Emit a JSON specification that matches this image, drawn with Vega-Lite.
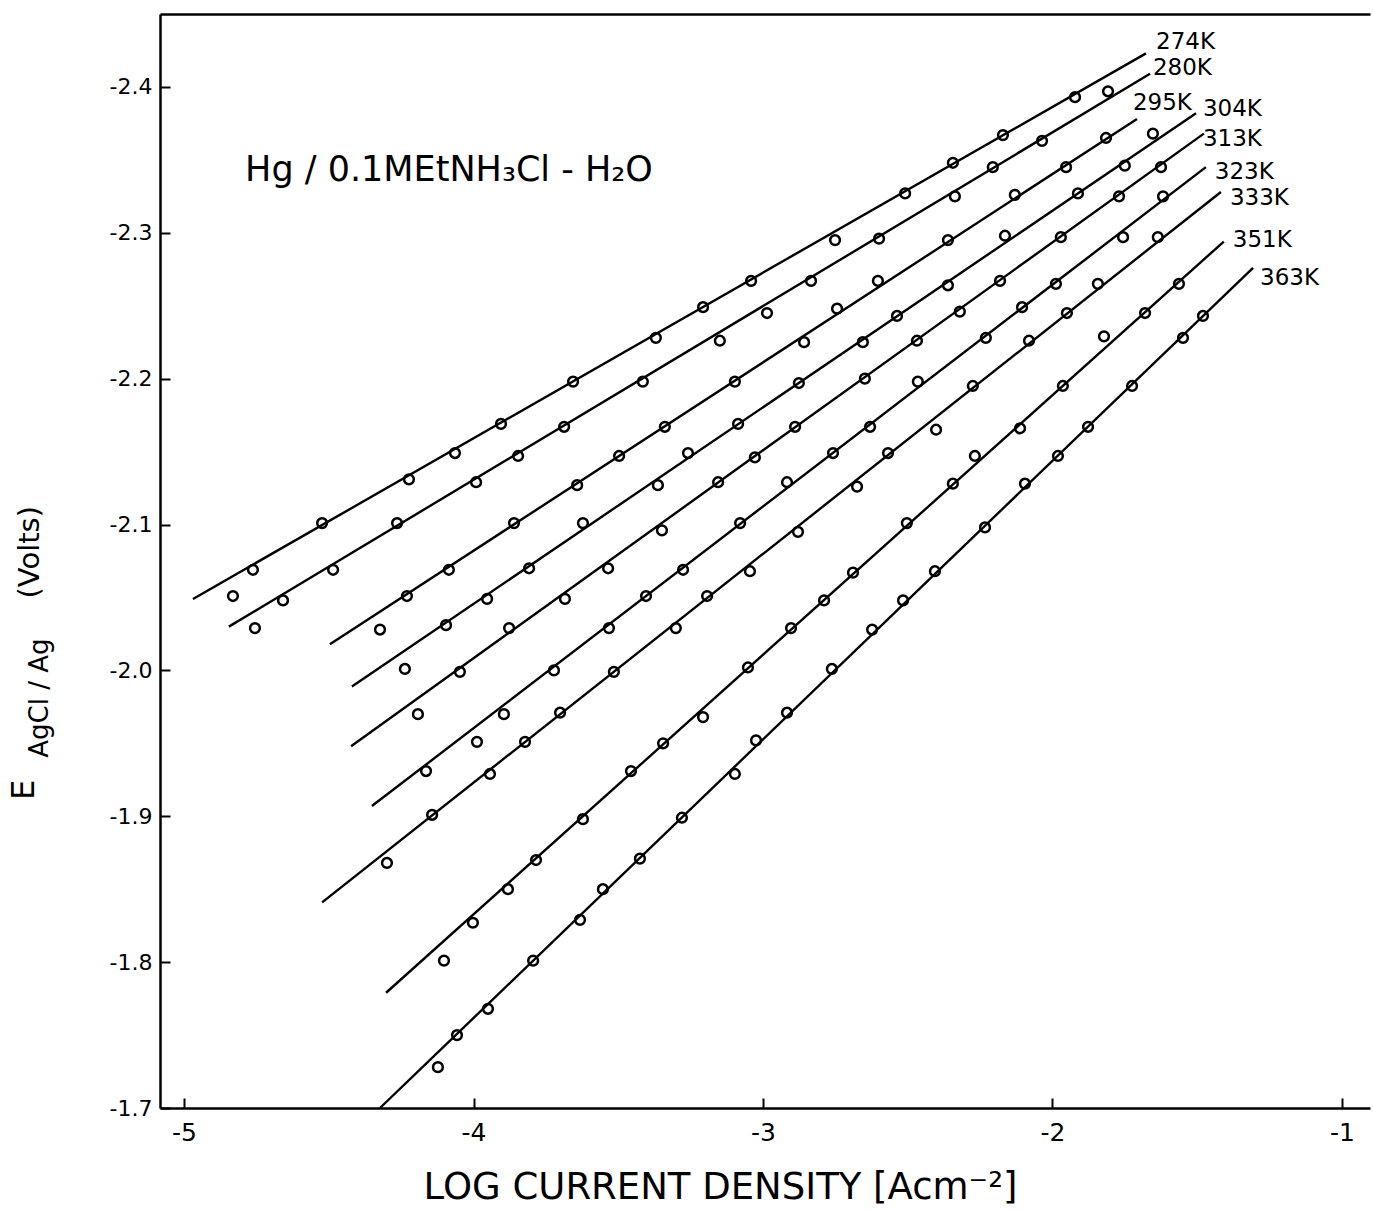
{
  "$schema": "https://vega.github.io/schema/vega-lite/v6.json",
  "width": 1210,
  "height": 1094,
  "autosize": {"type": "none"},
  "padding": {"left": 160, "top": 14, "right": 3, "bottom": 104},
  "background": "white",
  "config": {
    "view": {"stroke": null},
    "font": "DejaVu Sans",
    "axis": {
      "grid": false,
      "domainColor": "black",
      "domainWidth": 2.5,
      "tickColor": "black",
      "tickWidth": 2,
      "labelColor": "black",
      "titleColor": "black",
      "labelFont": "DejaVu Sans",
      "titleFont": "DejaVu Sans",
      "titleFontWeight": "normal"
    }
  },
  "datasets": {
    "fits": [
      {"T": "274K", "logi": -4.969, "E": -2.049}, {"T": "274K", "logi": -1.677, "E": -2.423},
      {"T": "280K", "logi": -4.845, "E": -2.030}, {"T": "280K", "logi": -1.663, "E": -2.409},
      {"T": "295K", "logi": -4.496, "E": -2.018}, {"T": "295K", "logi": -1.708, "E": -2.378},
      {"T": "304K", "logi": -4.420, "E": -1.989}, {"T": "304K", "logi": -1.504, "E": -2.382},
      {"T": "313K", "logi": -4.423, "E": -1.948}, {"T": "313K", "logi": -1.477, "E": -2.368},
      {"T": "323K", "logi": -4.351, "E": -1.907}, {"T": "323K", "logi": -1.470, "E": -2.345},
      {"T": "333K", "logi": -4.523, "E": -1.841}, {"T": "333K", "logi": -1.418, "E": -2.328},
      {"T": "351K", "logi": -4.302, "E": -1.779}, {"T": "351K", "logi": -1.408, "E": -2.294},
      {"T": "363K", "logi": -4.323, "E": -1.700}, {"T": "363K", "logi": -1.307, "E": -2.276}
    ],
    "obs": [
      {"T": "274K", "logi": -4.831, "E": -2.051}, {"T": "274K", "logi": -4.762, "E": -2.069},
      {"T": "274K", "logi": -4.523, "E": -2.101}, {"T": "274K", "logi": -4.223, "E": -2.131},
      {"T": "274K", "logi": -4.064, "E": -2.149}, {"T": "274K", "logi": -3.905, "E": -2.169},
      {"T": "274K", "logi": -3.656, "E": -2.198}, {"T": "274K", "logi": -3.370, "E": -2.228},
      {"T": "274K", "logi": -3.207, "E": -2.249}, {"T": "274K", "logi": -3.041, "E": -2.267},
      {"T": "274K", "logi": -2.751, "E": -2.295}, {"T": "274K", "logi": -2.509, "E": -2.327},
      {"T": "274K", "logi": -2.344, "E": -2.348}, {"T": "274K", "logi": -2.171, "E": -2.367},
      {"T": "274K", "logi": -1.922, "E": -2.393},

      {"T": "280K", "logi": -4.755, "E": -2.029}, {"T": "280K", "logi": -4.658, "E": -2.048},
      {"T": "280K", "logi": -4.485, "E": -2.069}, {"T": "280K", "logi": -4.264, "E": -2.101},
      {"T": "280K", "logi": -3.991, "E": -2.129}, {"T": "280K", "logi": -3.846, "E": -2.147},
      {"T": "280K", "logi": -3.687, "E": -2.167}, {"T": "280K", "logi": -3.415, "E": -2.198},
      {"T": "280K", "logi": -3.149, "E": -2.226}, {"T": "280K", "logi": -2.986, "E": -2.245},
      {"T": "280K", "logi": -2.834, "E": -2.267}, {"T": "280K", "logi": -2.599, "E": -2.296},
      {"T": "280K", "logi": -2.337, "E": -2.325}, {"T": "280K", "logi": -2.206, "E": -2.345},
      {"T": "280K", "logi": -2.036, "E": -2.363}, {"T": "280K", "logi": -1.808, "E": -2.397},

      {"T": "295K", "logi": -4.323, "E": -2.028}, {"T": "295K", "logi": -4.230, "E": -2.051},
      {"T": "295K", "logi": -4.085, "E": -2.069}, {"T": "295K", "logi": -3.860, "E": -2.101},
      {"T": "295K", "logi": -3.642, "E": -2.127}, {"T": "295K", "logi": -3.497, "E": -2.147},
      {"T": "295K", "logi": -3.339, "E": -2.167}, {"T": "295K", "logi": -3.097, "E": -2.198},
      {"T": "295K", "logi": -2.858, "E": -2.225}, {"T": "295K", "logi": -2.744, "E": -2.248},
      {"T": "295K", "logi": -2.603, "E": -2.267}, {"T": "295K", "logi": -2.361, "E": -2.295},
      {"T": "295K", "logi": -2.130, "E": -2.326}, {"T": "295K", "logi": -1.953, "E": -2.345},
      {"T": "295K", "logi": -1.815, "E": -2.365},

      {"T": "304K", "logi": -4.237, "E": -2.001}, {"T": "304K", "logi": -4.095, "E": -2.031},
      {"T": "304K", "logi": -3.953, "E": -2.049}, {"T": "304K", "logi": -3.808, "E": -2.070},
      {"T": "304K", "logi": -3.622, "E": -2.101}, {"T": "304K", "logi": -3.363, "E": -2.127},
      {"T": "304K", "logi": -3.259, "E": -2.149}, {"T": "304K", "logi": -3.086, "E": -2.169},
      {"T": "304K", "logi": -2.876, "E": -2.197}, {"T": "304K", "logi": -2.655, "E": -2.225},
      {"T": "304K", "logi": -2.537, "E": -2.243}, {"T": "304K", "logi": -2.361, "E": -2.264},
      {"T": "304K", "logi": -2.164, "E": -2.298}, {"T": "304K", "logi": -1.912, "E": -2.327},
      {"T": "304K", "logi": -1.750, "E": -2.346}, {"T": "304K", "logi": -1.653, "E": -2.368},

      {"T": "313K", "logi": -4.192, "E": -1.970}, {"T": "313K", "logi": -4.047, "E": -1.999},
      {"T": "313K", "logi": -3.877, "E": -2.029}, {"T": "313K", "logi": -3.684, "E": -2.049},
      {"T": "313K", "logi": -3.535, "E": -2.070}, {"T": "313K", "logi": -3.349, "E": -2.096},
      {"T": "313K", "logi": -3.155, "E": -2.129}, {"T": "313K", "logi": -3.028, "E": -2.146},
      {"T": "313K", "logi": -2.889, "E": -2.167}, {"T": "313K", "logi": -2.648, "E": -2.200},
      {"T": "313K", "logi": -2.468, "E": -2.226}, {"T": "313K", "logi": -2.320, "E": -2.246},
      {"T": "313K", "logi": -2.181, "E": -2.267}, {"T": "313K", "logi": -1.971, "E": -2.297},
      {"T": "313K", "logi": -1.770, "E": -2.325}, {"T": "313K", "logi": -1.625, "E": -2.345},

      {"T": "323K", "logi": -4.164, "E": -1.931}, {"T": "323K", "logi": -3.988, "E": -1.951},
      {"T": "323K", "logi": -3.895, "E": -1.970}, {"T": "323K", "logi": -3.722, "E": -2.000},
      {"T": "323K", "logi": -3.532, "E": -2.029}, {"T": "323K", "logi": -3.404, "E": -2.051},
      {"T": "323K", "logi": -3.276, "E": -2.069}, {"T": "323K", "logi": -3.079, "E": -2.101},
      {"T": "323K", "logi": -2.917, "E": -2.129}, {"T": "323K", "logi": -2.758, "E": -2.149},
      {"T": "323K", "logi": -2.630, "E": -2.167}, {"T": "323K", "logi": -2.465, "E": -2.198},
      {"T": "323K", "logi": -2.230, "E": -2.228}, {"T": "323K", "logi": -2.105, "E": -2.249},
      {"T": "323K", "logi": -1.988, "E": -2.265}, {"T": "323K", "logi": -1.756, "E": -2.297},
      {"T": "323K", "logi": -1.618, "E": -2.325},

      {"T": "333K", "logi": -4.299, "E": -1.868}, {"T": "333K", "logi": -4.143, "E": -1.901},
      {"T": "333K", "logi": -3.943, "E": -1.929}, {"T": "333K", "logi": -3.822, "E": -1.951},
      {"T": "333K", "logi": -3.701, "E": -1.971}, {"T": "333K", "logi": -3.515, "E": -1.999},
      {"T": "333K", "logi": -3.301, "E": -2.029}, {"T": "333K", "logi": -3.193, "E": -2.051},
      {"T": "333K", "logi": -3.045, "E": -2.068}, {"T": "333K", "logi": -2.879, "E": -2.095},
      {"T": "333K", "logi": -2.675, "E": -2.126}, {"T": "333K", "logi": -2.568, "E": -2.149},
      {"T": "333K", "logi": -2.402, "E": -2.165}, {"T": "333K", "logi": -2.275, "E": -2.195},
      {"T": "333K", "logi": -2.081, "E": -2.226}, {"T": "333K", "logi": -1.950, "E": -2.245},
      {"T": "333K", "logi": -1.843, "E": -2.265}, {"T": "333K", "logi": -1.636, "E": -2.297},

      {"T": "351K", "logi": -4.102, "E": -1.801}, {"T": "351K", "logi": -4.002, "E": -1.827},
      {"T": "351K", "logi": -3.881, "E": -1.850}, {"T": "351K", "logi": -3.784, "E": -1.870},
      {"T": "351K", "logi": -3.622, "E": -1.898}, {"T": "351K", "logi": -3.456, "E": -1.931},
      {"T": "351K", "logi": -3.345, "E": -1.950}, {"T": "351K", "logi": -3.207, "E": -1.968},
      {"T": "351K", "logi": -3.052, "E": -2.002}, {"T": "351K", "logi": -2.903, "E": -2.029},
      {"T": "351K", "logi": -2.789, "E": -2.048}, {"T": "351K", "logi": -2.689, "E": -2.067},
      {"T": "351K", "logi": -2.503, "E": -2.101}, {"T": "351K", "logi": -2.344, "E": -2.128},
      {"T": "351K", "logi": -2.268, "E": -2.147}, {"T": "351K", "logi": -2.112, "E": -2.166},
      {"T": "351K", "logi": -1.964, "E": -2.195}, {"T": "351K", "logi": -1.822, "E": -2.229},
      {"T": "351K", "logi": -1.680, "E": -2.245}, {"T": "351K", "logi": -1.563, "E": -2.265},

      {"T": "363K", "logi": -4.123, "E": -1.728}, {"T": "363K", "logi": -4.057, "E": -1.750},
      {"T": "363K", "logi": -3.950, "E": -1.768}, {"T": "363K", "logi": -3.794, "E": -1.801},
      {"T": "363K", "logi": -3.632, "E": -1.829}, {"T": "363K", "logi": -3.553, "E": -1.850},
      {"T": "363K", "logi": -3.425, "E": -1.871}, {"T": "363K", "logi": -3.280, "E": -1.899},
      {"T": "363K", "logi": -3.097, "E": -1.929}, {"T": "363K", "logi": -3.024, "E": -1.952},
      {"T": "363K", "logi": -2.917, "E": -1.971}, {"T": "363K", "logi": -2.762, "E": -2.001},
      {"T": "363K", "logi": -2.623, "E": -2.028}, {"T": "363K", "logi": -2.516, "E": -2.048},
      {"T": "363K", "logi": -2.406, "E": -2.068}, {"T": "363K", "logi": -2.233, "E": -2.098},
      {"T": "363K", "logi": -2.095, "E": -2.128}, {"T": "363K", "logi": -1.981, "E": -2.147},
      {"T": "363K", "logi": -1.877, "E": -2.167}, {"T": "363K", "logi": -1.725, "E": -2.195},
      {"T": "363K", "logi": -1.549, "E": -2.228}, {"T": "363K", "logi": -1.480, "E": -2.243}
    ],
    "tags": [
      {"T": "274K", "logi": -1.642, "E": -2.431},
      {"T": "280K", "logi": -1.653, "E": -2.413},
      {"T": "295K", "logi": -1.722, "E": -2.389},
      {"T": "304K", "logi": -1.480, "E": -2.385},
      {"T": "313K", "logi": -1.480, "E": -2.364},
      {"T": "323K", "logi": -1.439, "E": -2.342},
      {"T": "333K", "logi": -1.387, "E": -2.324},
      {"T": "351K", "logi": -1.377, "E": -2.295},
      {"T": "363K", "logi": -1.283, "E": -2.269}
    ]
  },
  "layer": [
    {
      "data": {"name": "fits"},
      "mark": {"type": "line", "color": "black", "strokeWidth": 2.4},
      "encoding": {
        "x": {
          "field": "logi", "type": "quantitative",
          "scale": {"domain": [-5.083, -0.903], "nice": false, "zero": false},
          "axis": {
            "orient": "bottom",
            "values": [-5, -4, -3, -2, -1],
            "labelExpr": "'-' + format(abs(datum.value), 'd')",
            "labelFontSize": 25,
            "labelPadding": 12,
            "ticks": false,
            "title": "LOG CURRENT DENSITY  [Acm⁻²]",
            "titleFontSize": 37,
            "titleX": 560,
            "titleY": 90,
            "titleBaseline": "alphabetic"
          }
        },
        "y": {
          "field": "E", "type": "quantitative",
          "scale": {"domain": [-2.45, -1.7], "reverse": true, "nice": false, "zero": false},
          "axis": {
            "orient": "left",
            "values": [-2.4, -2.3, -2.2, -2.1, -2.0, -1.9, -1.8, -1.7],
            "labelExpr": "'-' + format(abs(datum.value), '.1f')",
            "labelFontSize": 22,
            "labelPadding": 8,
            "ticks": false,
            "title": null
          }
        },
        "detail": {"field": "T", "type": "nominal"}
      }
    },
    {
      "data": {"name": "obs"},
      "mark": {"type": "point", "shape": "circle", "filled": false, "stroke": "black", "strokeWidth": 2.5, "size": 95, "opacity": 1},
      "encoding": {
        "x": {
          "field": "logi", "type": "quantitative",
          "axis": {"orient": "bottom", "offset": -10, "domain": false, "labels": false, "tickSize": 10, "values": [-5, -4, -3, -2, -1], "title": null}
        },
        "y": {
          "field": "E", "type": "quantitative",
          "axis": {"orient": "left", "offset": -10, "domain": false, "labels": false, "tickSize": 10, "values": [-2.4, -2.3, -2.2, -2.1, -2.0, -1.9, -1.8, -1.7], "title": null}
        }
      }
    },
    {
      "data": {"name": "tags"},
      "mark": {"type": "text", "align": "left", "baseline": "middle", "fontSize": 23, "color": "black"},
      "encoding": {
        "x": {
          "field": "logi", "type": "quantitative",
          "axis": {"orient": "top", "labels": false, "ticks": false, "title": null, "domainWidth": 2.5}
        },
        "y": {"field": "E", "type": "quantitative", "axis": null},
        "text": {"field": "T"}
      }
    },
    {
      "data": {"values": [{}]},
      "mark": {"type": "text", "align": "left", "baseline": "middle", "fontSize": 35, "color": "black", "text": "Hg / 0.1MEtNH₃Cl - H₂O"},
      "encoding": {
        "x": {"datum": -4.789, "type": "quantitative", "axis": null},
        "y": {"datum": -2.343, "type": "quantitative", "axis": null}
      }
    },
    {
      "data": {"values": [{}]},
      "mark": {"type": "text", "align": "center", "baseline": "middle", "angle": 270, "fontSize": 32, "color": "black", "text": "E"},
      "encoding": {
        "x": {"datum": -5.553, "type": "quantitative", "axis": null},
        "y": {"datum": -1.918, "type": "quantitative", "axis": null}
      }
    },
    {
      "data": {"values": [{}]},
      "mark": {"type": "text", "align": "center", "baseline": "middle", "angle": 270, "fontSize": 26, "color": "black", "text": "AgCl / Ag"},
      "encoding": {
        "x": {"datum": -5.497, "type": "quantitative", "axis": null},
        "y": {"datum": -1.981, "type": "quantitative", "axis": null}
      }
    },
    {
      "data": {"values": [{}]},
      "mark": {"type": "text", "align": "center", "baseline": "middle", "angle": 270, "fontSize": 29, "color": "black", "text": "(Volts)"},
      "encoding": {
        "x": {"datum": -5.532, "type": "quantitative", "axis": null},
        "y": {"datum": -2.081, "type": "quantitative", "axis": null}
      }
    }
  ],
  "resolve": {"axis": {"x": "independent", "y": "independent"}}
}
